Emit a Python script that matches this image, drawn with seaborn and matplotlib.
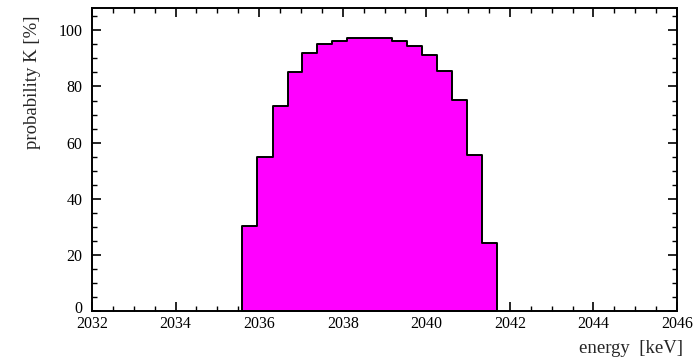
import matplotlib
matplotlib.use("Agg")
import matplotlib.pyplot as plt
import matplotlib.transforms as mtransforms
import seaborn as sns
import numpy as np
import pandas as pd
from matplotlib.ticker import MultipleLocator

# bin edges (keV) and probability per bin (%)
bin_edges = [2035.60, 2035.96, 2036.32, 2036.68, 2037.03, 2037.39, 2037.75,
             2038.11, 2038.47, 2038.83, 2039.19, 2039.55, 2039.90, 2040.26,
             2040.62, 2040.98, 2041.34, 2041.70]
probability = [30.3, 55.0, 73.1, 85.3, 91.9, 95.0, 96.3, 97.3, 97.3, 97.3,
               96.3, 94.5, 91.3, 85.7, 75.3, 55.5, 24.2]
xticks = [2032, 2034, 2036, 2038, 2040, 2042, 2044, 2046]
yticks = [0, 20, 40, 60, 80, 100]

sns.set_style("ticks")
plt.rcParams['font.family'] = ['Liberation Serif', 'DejaVu Serif']

edges = np.array(bin_edges)
centers = (edges[:-1] + edges[1:]) / 2
df = pd.DataFrame({"energy": centers, "prob": probability})

fig = plt.figure(figsize=(6.94, 3.59), dpi=100)
ax = fig.add_axes([0.1326, 0.1345, 0.9755 - 0.1326, 0.9777 - 0.1345])

sns.histplot(data=df, x="energy", weights="prob", bins=list(bin_edges),
             element="step", fill=True, color="#ff00ff", alpha=1.0,
             edgecolor="black", linewidth=1.4, ax=ax)

ax.set_xlim(2032, 2046)
ax.set_ylim(0, 108)
ax.set_xticks(xticks)
ax.set_yticks(yticks)
ax.xaxis.set_minor_locator(MultipleLocator(0.5))
ax.yaxis.set_minor_locator(MultipleLocator(5))
ax.tick_params(which="both", direction="in", top=True, right=True,
               labelsize=11.5, colors="black")
ax.tick_params(which="major", length=6.5, width=1.2)
ax.tick_params(which="minor", length=3.5, width=1.0)
ax.tick_params(axis="y", which="major", pad=7)
ax.tick_params(axis="x", which="major", pad=3.5)
for s in ax.spines.values():
    s.set_linewidth(1.4)
    s.set_color("black")

# nudge the "0" y label slightly up so it only touches "2032"
fig.canvas.draw()
zero_label = ax.get_yticklabels()[0]
zero_label.set_transform(zero_label.get_transform() +
                         mtransforms.ScaledTranslation(0, 2.5 / 72, fig.dpi_scale_trans))

ax.set_xlabel("energy  [keV]", fontsize=13.5, loc="right")
ax.xaxis.set_label_coords(1.011, -0.098)
ax.set_ylabel("probability K [%]", fontsize=13.5)
ax.yaxis.set_label_coords(-0.088, 0.755)

fig.savefig("out.png", dpi=100)
